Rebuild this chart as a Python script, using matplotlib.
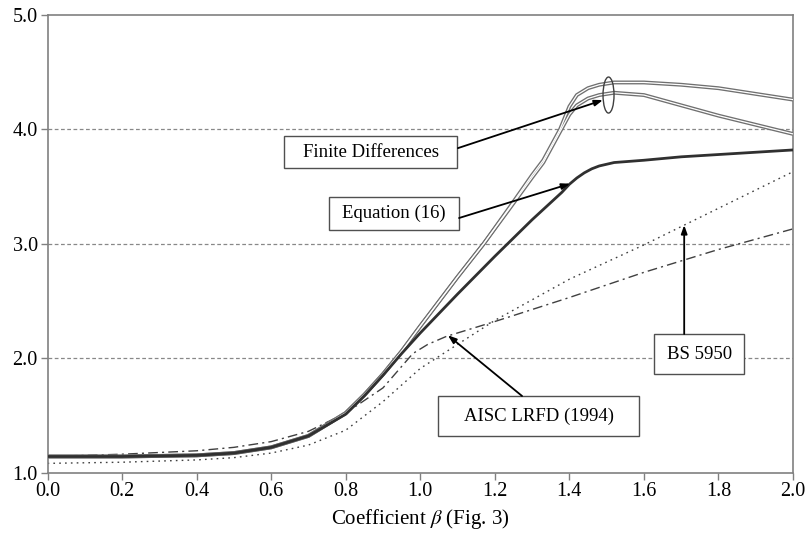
import numpy as np
import matplotlib
matplotlib.use("Agg")
import matplotlib.pyplot as plt
from matplotlib.patches import Rectangle, Ellipse

plt.rcParams['font.family'] = 'serif'
plt.rcParams['font.serif'] = ['Liberation Serif', 'DejaVu Serif']
plt.rcParams['mathtext.fontset'] = 'stix'

# Equation (16)
eq_x = [0, 0.2, 0.4, 0.5, 0.6, 0.7, 0.8, 0.85, 0.9, 0.95, 1.0, 1.1, 1.2, 1.3, 1.33, 1.36, 1.38, 1.4,
        1.42, 1.44, 1.46, 1.48, 1.52, 1.6, 1.7, 1.8, 1.9, 2.0]
eq_y = [1.14, 1.14, 1.15, 1.17, 1.22, 1.32, 1.51, 1.67, 1.85, 2.04, 2.22, 2.56, 2.89, 3.21, 3.30, 3.39, 3.45, 3.52,
        3.575, 3.62, 3.655, 3.68, 3.71, 3.73, 3.76, 3.78, 3.80, 3.82]

# Finite differences (two curves)
fd_x = [0, 0.2, 0.4, 0.5, 0.6, 0.7, 0.8, 0.85, 0.9, 0.95, 1.0, 1.1, 1.17, 1.24, 1.3, 1.33, 1.375, 1.4,
        1.42, 1.45, 1.48, 1.52, 1.6, 1.7, 1.8, 1.9, 2.0]
fd_a = [1.14, 1.14, 1.15, 1.17, 1.22, 1.32, 1.52, 1.68, 1.86, 2.06, 2.28, 2.71, 3.0, 3.32, 3.60, 3.73, 4.0, 4.20,
        4.30, 4.36, 4.39, 4.41, 4.41, 4.39, 4.36, 4.31, 4.26]
fd_b = [1.14, 1.14, 1.15, 1.17, 1.22, 1.32, 1.52, 1.68, 1.86, 2.06, 2.28, 2.71, 3.0, 3.31, 3.58, 3.71, 3.98, 4.13,
        4.21, 4.27, 4.30, 4.32, 4.30, 4.21, 4.12, 4.04, 3.96]

# AISC LRFD (1994)
aisc_x = [0, 0.2, 0.4, 0.5, 0.6, 0.7, 0.8, 0.9, 0.98, 1.02, 1.07, 1.2, 1.4, 1.6, 1.8, 2.0]
aisc_y = [1.14, 1.16, 1.19, 1.22, 1.27, 1.36, 1.52, 1.74, 2.04, 2.12, 2.19, 2.32, 2.53, 2.75, 2.95, 3.13]

# BS 5950
bs_x = [0, 0.2, 0.4, 0.5, 0.6, 0.7, 0.8, 0.9, 1.0, 1.1, 1.2, 1.4, 1.6, 1.8, 2.0]
bs_y = [1.08, 1.09, 1.11, 1.13, 1.17, 1.24, 1.37, 1.62, 1.91, 2.12, 2.33, 2.69, 2.99, 3.31, 3.63]

xticks = np.arange(0, 2.01, 0.2)
yticks = [1.0, 2.0, 3.0, 4.0, 5.0]

fig = plt.figure(figsize=(8.07, 5.35), dpi=100)
ax = fig.add_axes([0.0589, 0.1168, 0.9238, 0.8552])

for y in [2.0, 3.0, 4.0]:
    ax.axhline(y, color='#888888', lw=0.9, ls=(0, (3, 2)), zorder=1)

# hollow double lines for the finite difference results
for fy in [fd_a, fd_b]:
    ax.plot(fd_x, fy, color='#707070', lw=2.8, zorder=3, solid_capstyle='butt')
    ax.plot(fd_x, fy, color='white', lw=0.9, zorder=3.1, solid_capstyle='butt')

ax.plot(eq_x, eq_y, color='#303030', lw=2.0, zorder=4)
ax.plot(aisc_x, aisc_y, color='#404040', lw=1.0, ls=(0, (7, 3, 1.5, 3)), zorder=2)
ax.plot(bs_x, bs_y, color='#404040', lw=1.0, ls=(0, (1.2, 3)), zorder=2)

ax.add_patch(Ellipse((1.505, 4.30), 0.0295, 0.315, fill=False, ec='#404040', lw=1.0, zorder=5))

# label boxes: (text, x0, x1, y0, y1, arrow start, arrow tip)
boxes = [
    ("Finite Differences", 0.6345, 1.0986, 3.662, 3.941, (1.101, 3.836), (1.490, 4.256)),
    ("Equation (16)", 0.755, 1.104, 3.120, 3.408, (1.104, 3.225), (1.402, 3.525)),
    ("BS 5950", 1.627, 1.869, 1.861, 2.211, (1.708, 2.211), (1.708, 3.163)),
    ("AISC LRFD (1994)", 1.0476, 1.5869, 1.319, 1.669, (1.273, 1.669), (1.074, 2.20)),
]
for txt, x0, x1, y0, y1, start, tip in boxes:
    ax.add_patch(Rectangle((x0, y0), x1 - x0, y1 - y0, facecolor='white',
                           edgecolor='#505050', lw=1.0, zorder=6))
    ax.text((x0 + x1) / 2, (y0 + y1) / 2, txt, ha='center', va='center',
            fontsize=13.5, zorder=7)
    ax.annotate('', xy=tip, xytext=start, zorder=6,
                arrowprops=dict(arrowstyle='-|>,head_length=0.5,head_width=0.18',
                                color='black', lw=1.3, shrinkA=0, shrinkB=0))

ax.set_xlim(0, 2.0)
ax.set_ylim(1.0, 5.0)
ax.set_xticks(xticks)
ax.set_xticklabels([f"{v:.1f}" for v in xticks])
ax.set_yticks(yticks)
ax.set_yticklabels([f"{v:.1f}" for v in yticks])
ax.tick_params(direction='out', length=5, width=1, color='#808080',
               labelsize=14.5, pad=2)
for s in ax.spines.values():
    s.set_color('#808080')
    s.set_linewidth(1.2)

ax.set_xlabel(r"Coefficient $\beta$ (Fig. 3)", fontsize=15, labelpad=4)

fig.savefig("out.png", dpi=100)
